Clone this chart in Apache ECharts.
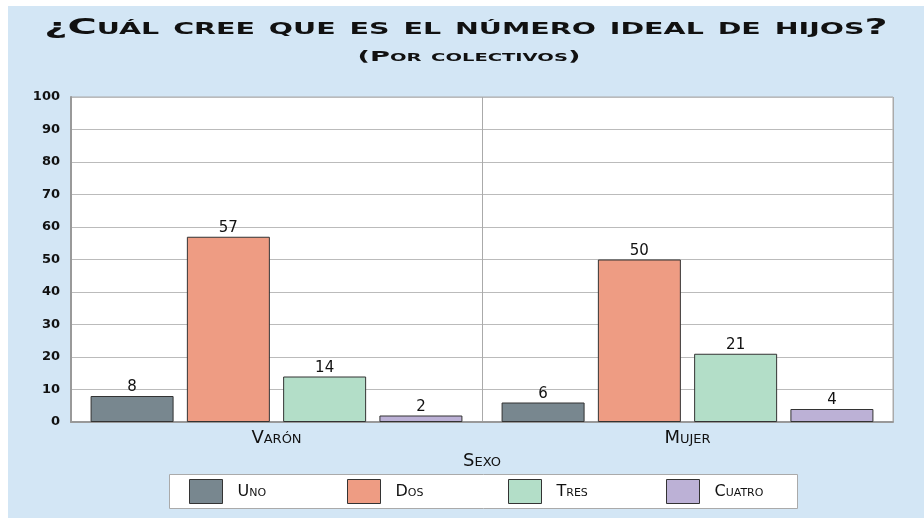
<!DOCTYPE html>
<html>
<head>
<meta charset="utf-8">
<script src="https://cdn.jsdelivr.net/npm/echarts@6/dist/echarts.min.js"></script>
<style>
  html, body { margin: 0; padding: 0; background: #fff; }
  #charts_main { width: 924px; height: 518px; }
</style>
</head>
<body>
<div id="charts_main"></div>
<script>
// datos
const categorias = ['Varón', 'Mujer'];
const uno = [8, 6];
const dos = [57, 50];
const tres = [14, 21];
const cuatro = [2, 4];
const nombres = ['Uno', 'Dos', 'Tres', 'Cuatro'];
const colores = ['#78878f', '#ee9c83', '#b3dec8', '#bcb1d6'];
const titulo = '¿Cuál cree que es el número ideal de hijos?';
const subtitulo = '(Por colectivos)';

const FONT = 'DejaVu Sans';
// posicion x de cada elemento de la leyenda
const leyendaX = [189, 347, 508, 666];

function init() {
  let Chart = echarts.init(document.getElementById('charts_main'));

  const series = [uno, dos, tres, cuatro].map((d, i) => ({
    name: nombres[i],
    type: 'bar',
    data: d,
    barWidth: 83,
    barGap: '16%',
    itemStyle: { color: colores[i], borderColor: '#333', borderWidth: 1 },
    label: {
      show: true,
      position: 'top',
      distance: 1,
      color: '#111',
      fontFamily: FONT,
      fontStyle: 'small-caps',
      fontSize: 15
    }
  }));

  // una leyenda por serie para fijar las posiciones
  const legends = nombres.map((n, i) => ({
    left: leyendaX[i],
    top: 479,
    padding: 0,
    itemWidth: 33,
    itemHeight: 24,
    icon: 'rect',
    itemStyle: { borderColor: '#333', borderWidth: 1 },
    textStyle: {
      fontFamily: FONT,
      fontStyle: 'small-caps',
      fontSize: 16,
      color: '#111',
      padding: [0, 0, 0, 10]
    },
    data: [n]
  }));

  let option = {
    backgroundColor: '#fff',
    animation: false,
    // fondo azul, titulos (texto ensanchado como el original) y caja de leyenda
    graphic: [
      {
        type: 'rect',
        z: -10,
        shape: { x: 8, y: 6, width: 916, height: 512 },
        style: { fill: '#d3e6f5' }
      },
      {
        type: 'rect',
        z: 1,
        shape: { x: 169.5, y: 474.5, width: 628, height: 34 },
        style: { fill: '#fff', stroke: '#aaa', lineWidth: 1 }
      },
      {
        type: 'text',
        x: 466,
        y: 29,
        scaleX: 1.9,
        style: {
          text: titulo,
          textAlign: 'center',
          textVerticalAlign: 'middle',
          fontFamily: FONT,
          fontStyle: 'small-caps',
          fontWeight: 'bold',
          fontSize: 21,
          fill: '#111'
        }
      },
      {
        type: 'text',
        x: 469,
        y: 57,
        scaleX: 1.95,
        style: {
          text: subtitulo,
          textAlign: 'center',
          textVerticalAlign: 'middle',
          fontFamily: FONT,
          fontStyle: 'small-caps',
          fontWeight: 'bold',
          fontSize: 14,
          fill: '#111'
        }
      }
    ],
    legend: legends,
    grid: {
      left: 71,
      right: 31,
      top: 97,
      bottom: 96,
      show: true,
      backgroundColor: '#fff',
      borderColor: '#aaa',
      borderWidth: 1
    },
    xAxis: {
      type: 'category',
      data: categorias,
      name: 'Sexo',
      nameLocation: 'middle',
      nameGap: 26,
      nameTextStyle: {
        fontFamily: FONT,
        fontStyle: 'small-caps',
        fontSize: 18,
        color: '#111'
      },
      axisLine: { lineStyle: { color: '#999', width: 2 } },
      axisTick: { show: false },
      splitLine: { show: true, lineStyle: { color: '#aaa' } },
      axisLabel: {
        fontFamily: FONT,
        fontStyle: 'small-caps',
        fontSize: 18,
        color: '#111',
        margin: 7
      }
    },
    yAxis: {
      type: 'value',
      min: 0,
      max: 100,
      interval: 10,
      axisLine: { show: true, lineStyle: { color: '#999', width: 2 } },
      axisTick: { show: false },
      splitLine: { lineStyle: { color: '#bbb' } },
      axisLabel: {
        fontFamily: FONT,
        fontWeight: 'bold',
        fontSize: 13,
        color: '#111',
        margin: 11
      }
    },
    series: series
  };
  Chart.setOption(option);
}

init();
</script>
</body>
</html>
